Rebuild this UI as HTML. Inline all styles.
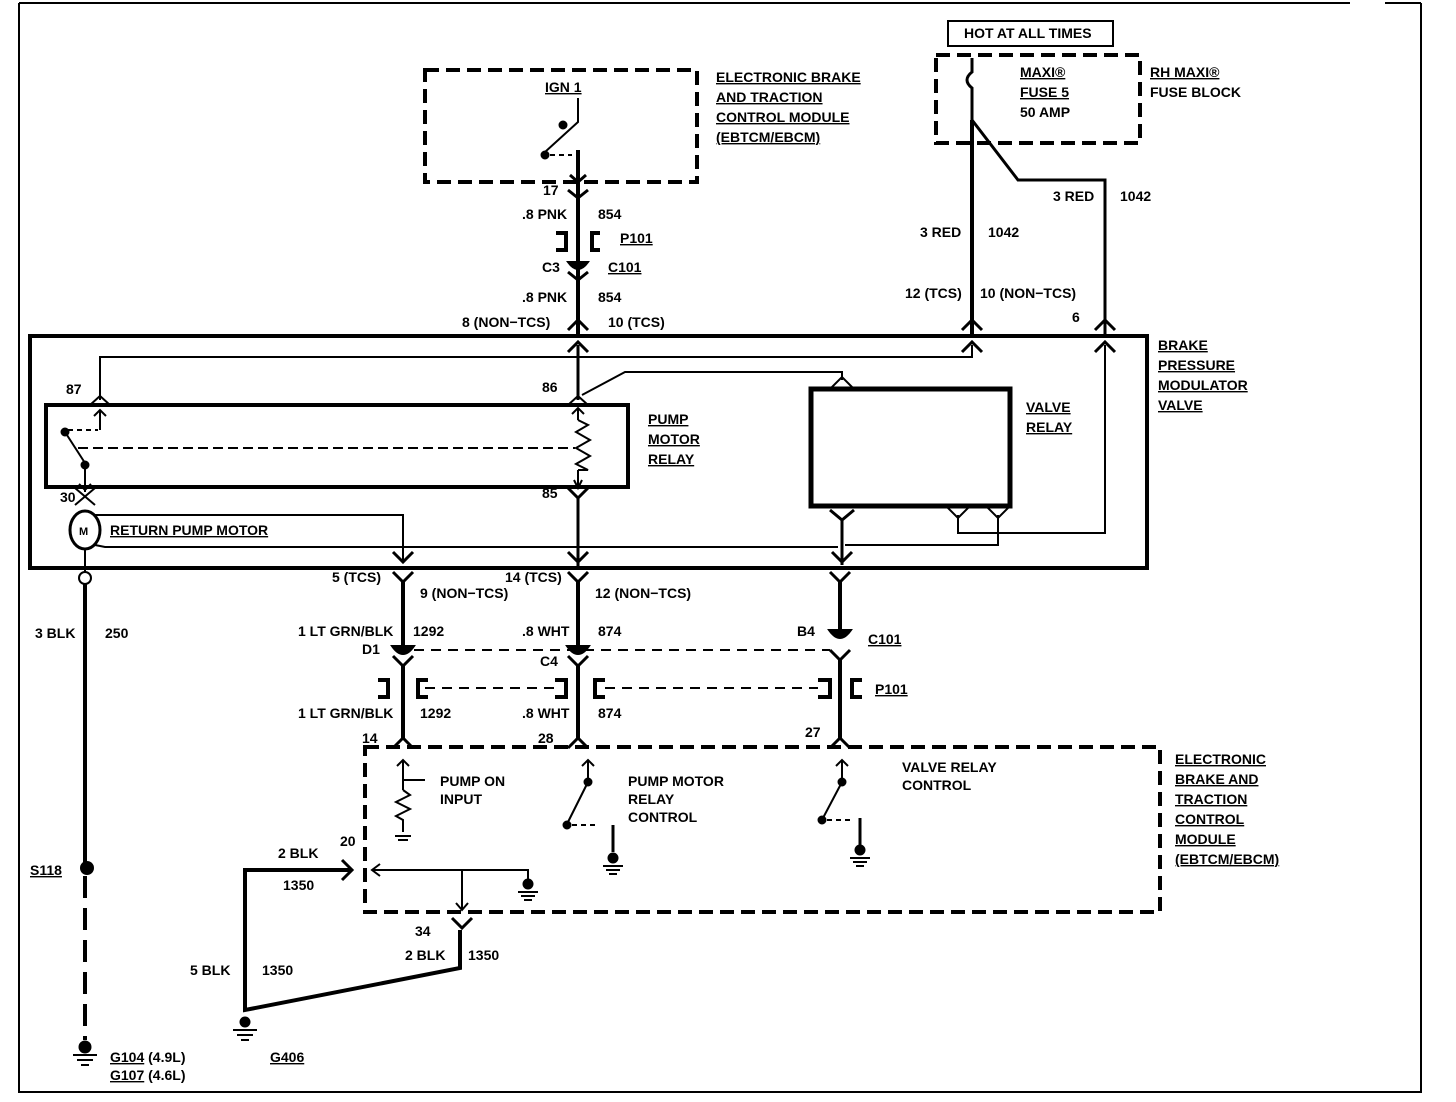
<!DOCTYPE html>
<html><head><meta charset="utf-8"><style>
html,body{margin:0;padding:0;background:#fff}
svg{display:block}
text{font-family:"Liberation Sans",Arial,sans-serif;font-weight:bold;font-size:14px;fill:#000}
.u{text-decoration:underline}
</style></head><body>
<svg width="1456" height="1102" viewBox="0 0 1456 1102" xmlns="http://www.w3.org/2000/svg">
<g fill="none" stroke="#000">
<path d="M19 3 V1092 H1421 V3" stroke-width="2"/>
<path d="M19 3 H1350 M1385 3 H1421" stroke-width="2"/>
<rect x="425" y="70" width="272" height="112" stroke-width="4" stroke-dasharray="14,7"/>
<rect x="936" y="55" width="204" height="88" stroke-width="4" stroke-dasharray="14,7"/>
<rect x="948" y="21" width="165" height="25" stroke-width="2"/>
<path d="M972 58 V72 Q962 80 972 88 V120 L1018 180 H1105 V335" stroke-width="3"/>
<path d="M972 120 V335" stroke-width="4"/>
<path d="M578 98 V122 L545 152" stroke-width="2"/>
<circle cx="563" cy="125" r="4" fill="#000"/>
<circle cx="545" cy="155" r="4" fill="#000"/>
<path d="M550 155 H572" stroke-width="2" stroke-dasharray="5,4"/>
<path d="M578 150 V335" stroke-width="4"/>
<path d="M570 175 L578 182 L586 175 M568 190 L578 198 L588 190" stroke-width="3"/>
<path d="M556 233 H566 V250 H556 M600 233 H592 V250 H600" stroke-width="4"/>
<path d="M568 262 Q578 276 588 262 Z" fill="#000" stroke-width="2"/>
<path d="M568 272 L578 280 L588 272" stroke-width="3"/>
<path d="M568 330 L578 320 L588 330" stroke-width="3"/>
<path d="M962 330 L972 320 L982 330 M1095 330 L1105 320 L1115 330" stroke-width="3"/>
<rect x="30" y="336" width="1117" height="232" stroke-width="4"/>
<path d="M568 352 L578 342 L588 352 M962 352 L972 342 L982 352 M1095 352 L1105 342 L1115 352" stroke-width="3"/>
<path d="M100 400 V357 H972 V345" stroke-width="2"/>
<path d="M578 345 V400" stroke-width="3"/>
<path d="M582 395 L625 372 H842 V380" stroke-width="2"/>
<path d="M1105 345 V533 H958 V515" stroke-width="2"/>
<path d="M998 515 V545 H845" stroke-width="2"/>
<rect x="46" y="405" width="582" height="82" stroke-width="4"/>
<path d="M90 405 L100 396 L110 405" stroke-width="2"/>
<path d="M568 405 L578 396 L588 405" stroke-width="2"/>
<path d="M100 410 V430 M94 416 L100 410 L106 416" stroke-width="2"/>
<path d="M68 430 H98" stroke-width="2" stroke-dasharray="5,4"/>
<circle cx="65" cy="432" r="4" fill="#000"/>
<path d="M65 432 L85 463" stroke-width="2"/>
<circle cx="85" cy="465" r="4" fill="#000"/>
<path d="M85 465 V492 M79 484 L85 490 L91 484" stroke-width="2"/>
<path d="M78 448 H575" stroke-width="2" stroke-dasharray="10,5"/>
<path d="M578 408 V420 M578 470 V485 M572 414 L578 408 L584 414" stroke-width="2"/>
<path d="M578 420 L588 425 L576 432 L590 440 L576 448 L590 456 L576 464 L588 470 L578 470" stroke-width="2"/>
<path d="M574 480 L578 488 L582 480" stroke-width="2"/>
<path d="M568 488 L578 498 L588 488" stroke-width="3"/>
<path d="M578 498 V568" stroke-width="3"/>
<path d="M75 488 L95 505 M95 488 L75 505" stroke-width="2"/>
<ellipse cx="85" cy="530" rx="15" ry="19" stroke-width="3"/>
<path d="M95 515 L105 515 H403 V560" stroke-width="2"/>
<path d="M95 545 L105 547 H838" stroke-width="2"/>
<path d="M85 549 V572" stroke-width="2"/>
<circle cx="85" cy="578" r="6" stroke-width="2"/>
<rect x="811" y="389" width="199" height="117" stroke-width="5"/>
<path d="M830 389 L842 377 L854 389" stroke-width="2"/>
<path d="M830 510 L842 520 L854 510 M842 520 V565" stroke-width="3"/>
<path d="M946 506 L958 518 L970 506 M986 506 L998 518 L1010 506" stroke-width="2"/>
<path d="M393 552 L403 562 L413 552 M568 552 L578 562 L588 552 M832 552 L842 562 L852 552" stroke-width="3"/>
<path d="M393 572 L403 582 L413 572 M568 572 L578 582 L588 572 M830 572 L840 582 L850 572" stroke-width="3"/>
<path d="M403 582 V645 M578 582 V645 M840 582 V630" stroke-width="4"/>
<path d="M392 646 Q403 662 414 646 Z M567 646 Q578 662 589 646 Z M829 630 Q840 646 851 630 Z" fill="#000" stroke-width="2"/>
<path d="M414 650 H830" stroke-width="2" stroke-dasharray="10,7"/>
<path d="M393 656 L403 666 L413 656 M568 656 L578 666 L588 656 M830 650 L840 660 L850 650" stroke-width="3"/>
<path d="M403 666 V740 M578 666 V740 M840 660 V740" stroke-width="4"/>
<path d="M378 680 H388 V697 H378 M428 680 H418 V697 H428 M555 680 H566 V697 H555 M605 680 H595 V697 H605 M818 680 H830 V697 H818 M862 680 H852 V697 H862" stroke-width="4"/>
<path d="M425 688 H555 M605 688 H818" stroke-width="2" stroke-dasharray="10,7"/>
<path d="M393 748 L403 738 L413 748 M568 748 L578 738 L588 748 M830 748 L840 738 L850 748" stroke-width="3"/>
<rect x="365" y="747" width="795" height="165" stroke-width="4" stroke-dasharray="14,7"/>
<path d="M403 760 V790 M397 766 L403 760 L409 766 M403 780 H425" stroke-width="2"/>
<path d="M403 790 L410 795 L396 802 L410 809 L396 816 L403 820 V832" stroke-width="2"/>
<path d="M395 836 H411 M398 840 H408" stroke-width="2"/>
<path d="M588 760 V778 M582 766 L588 760 L594 766" stroke-width="2"/>
<circle cx="588" cy="782" r="4" fill="#000"/>
<path d="M588 782 L568 822" stroke-width="2"/>
<circle cx="567" cy="825" r="4" fill="#000"/>
<path d="M572 825 H596" stroke-width="2" stroke-dasharray="5,4"/>
<path d="M613 825 V852" stroke-width="3"/>
<circle cx="613" cy="858" r="5" fill="#000"/>
<path d="M603 866 H623 M606 870 H620 M609 874 H617" stroke-width="2"/>
<path d="M842 760 V778 M836 766 L842 760 L848 766" stroke-width="2"/>
<circle cx="842" cy="782" r="4" fill="#000"/>
<path d="M842 782 L823 818" stroke-width="2"/>
<circle cx="822" cy="820" r="4" fill="#000"/>
<path d="M827 820 H850" stroke-width="2" stroke-dasharray="5,4"/>
<path d="M860 818 V845" stroke-width="3"/>
<circle cx="860" cy="850" r="5" fill="#000"/>
<path d="M850 858 H870 M853 862 H867 M856 866 H864" stroke-width="2"/>
<path d="M372 870 H528 V880" stroke-width="2"/>
<path d="M380 864 L372 870 L380 876" stroke-width="2"/>
<path d="M462 870 V910 M456 903 L462 910 L468 903" stroke-width="2"/>
<circle cx="528" cy="884" r="5" fill="#000"/>
<path d="M518 892 H538 M521 896 H535 M524 900 H532" stroke-width="2"/>
<path d="M342 860 L352 870 L342 880" stroke-width="3"/>
<path d="M350 870 H245 V1010 L460 968 V930" stroke-width="4"/>
<path d="M452 918 L462 928 L472 918" stroke-width="3"/>
<circle cx="245" cy="1022" r="5" fill="#000"/>
<path d="M233 1030 H257 M237 1035 H253 M241 1040 H249" stroke-width="2"/>
<path d="M85 584 V868" stroke-width="4"/>
<circle cx="87" cy="868" r="7" fill="#000" stroke="none"/>
<path d="M85 876 V1040" stroke-width="4" stroke-dasharray="22,10"/>
<circle cx="85" cy="1047" r="6" fill="#000"/>
<path d="M73 1055 H97 M77 1060 H93 M81 1065 H89" stroke-width="2"/>
</g>
<text x="964" y="38">HOT AT ALL TIMES</text>
<text x="1020" y="77" class="u">MAXI®</text>
<text x="1020" y="97" class="u">FUSE 5</text>
<text x="1020" y="117">50 AMP</text>
<text x="1150" y="77" class="u">RH MAXI®</text>
<text x="1150" y="97">FUSE BLOCK</text>
<text x="716" y="82" class="u">ELECTRONIC BRAKE</text>
<text x="716" y="102" class="u">AND TRACTION</text>
<text x="716" y="122" class="u">CONTROL MODULE</text>
<text x="716" y="142" class="u">(EBTCM/EBCM)</text>
<text x="545" y="92" class="u">IGN 1</text>
<text x="543" y="195">17</text>
<text x="522" y="219">.8 PNK</text>
<text x="598" y="219">854</text>
<text x="620" y="243" class="u">P101</text>
<text x="542" y="272">C3</text>
<text x="608" y="272" class="u">C101</text>
<text x="522" y="302">.8 PNK</text>
<text x="598" y="302">854</text>
<text x="462" y="327">8 (NON−TCS)</text>
<text x="608" y="327">10 (TCS)</text>
<text x="1053" y="201">3 RED</text>
<text x="1120" y="201">1042</text>
<text x="920" y="237">3 RED</text>
<text x="988" y="237">1042</text>
<text x="905" y="298">12 (TCS)</text>
<text x="980" y="298">10 (NON−TCS)</text>
<text x="1072" y="322">6</text>
<text x="1158" y="350" class="u">BRAKE</text>
<text x="1158" y="370" class="u">PRESSURE</text>
<text x="1158" y="390" class="u">MODULATOR</text>
<text x="1158" y="410" class="u">VALVE</text>
<text x="66" y="394">87</text>
<text x="542" y="392">86</text>
<text x="648" y="424" class="u">PUMP</text>
<text x="648" y="444" class="u">MOTOR</text>
<text x="648" y="464" class="u">RELAY</text>
<text x="1026" y="412" class="u">VALVE</text>
<text x="1026" y="432" class="u">RELAY</text>
<text x="542" y="498">85</text>
<text x="60" y="502">30</text>
<text x="79" y="535" style="font-size:11px">M</text>
<text x="110" y="535" class="u">RETURN PUMP MOTOR</text>
<text x="332" y="582">5 (TCS)</text>
<text x="420" y="598">9 (NON−TCS)</text>
<text x="505" y="582">14 (TCS)</text>
<text x="595" y="598">12 (NON−TCS)</text>
<text x="35" y="638">3 BLK</text>
<text x="105" y="638">250</text>
<text x="298" y="636">1 LT GRN/BLK</text>
<text x="413" y="636">1292</text>
<text x="522" y="636">.8 WHT</text>
<text x="598" y="636">874</text>
<text x="797" y="636">B4</text>
<text x="868" y="644" class="u">C101</text>
<text x="362" y="654">D1</text>
<text x="540" y="666">C4</text>
<text x="875" y="694" class="u">P101</text>
<text x="298" y="718">1 LT GRN/BLK</text>
<text x="420" y="718">1292</text>
<text x="522" y="718">.8 WHT</text>
<text x="598" y="718">874</text>
<text x="362" y="743">14</text>
<text x="538" y="743">28</text>
<text x="805" y="737">27</text>
<text x="440" y="786">PUMP ON</text>
<text x="440" y="804">INPUT</text>
<text x="628" y="786">PUMP MOTOR</text>
<text x="628" y="804">RELAY</text>
<text x="628" y="822">CONTROL</text>
<text x="902" y="772">VALVE RELAY</text>
<text x="902" y="790">CONTROL</text>
<text x="1175" y="764" class="u">ELECTRONIC</text>
<text x="1175" y="784" class="u">BRAKE AND</text>
<text x="1175" y="804" class="u">TRACTION</text>
<text x="1175" y="824" class="u">CONTROL</text>
<text x="1175" y="844" class="u">MODULE</text>
<text x="1175" y="864" class="u">(EBTCM/EBCM)</text>
<text x="340" y="846">20</text>
<text x="278" y="858">2 BLK</text>
<text x="283" y="890">1350</text>
<text x="30" y="875" class="u">S118</text>
<text x="415" y="936">34</text>
<text x="405" y="960">2 BLK</text>
<text x="468" y="960">1350</text>
<text x="190" y="975">5 BLK</text>
<text x="262" y="975">1350</text>
<text x="270" y="1062" class="u">G406</text>
<text x="110" y="1062"><tspan class="u">G104</tspan> (4.9L)</text>
<text x="110" y="1080"><tspan class="u">G107</tspan> (4.6L)</text>
</svg>
</body></html>
